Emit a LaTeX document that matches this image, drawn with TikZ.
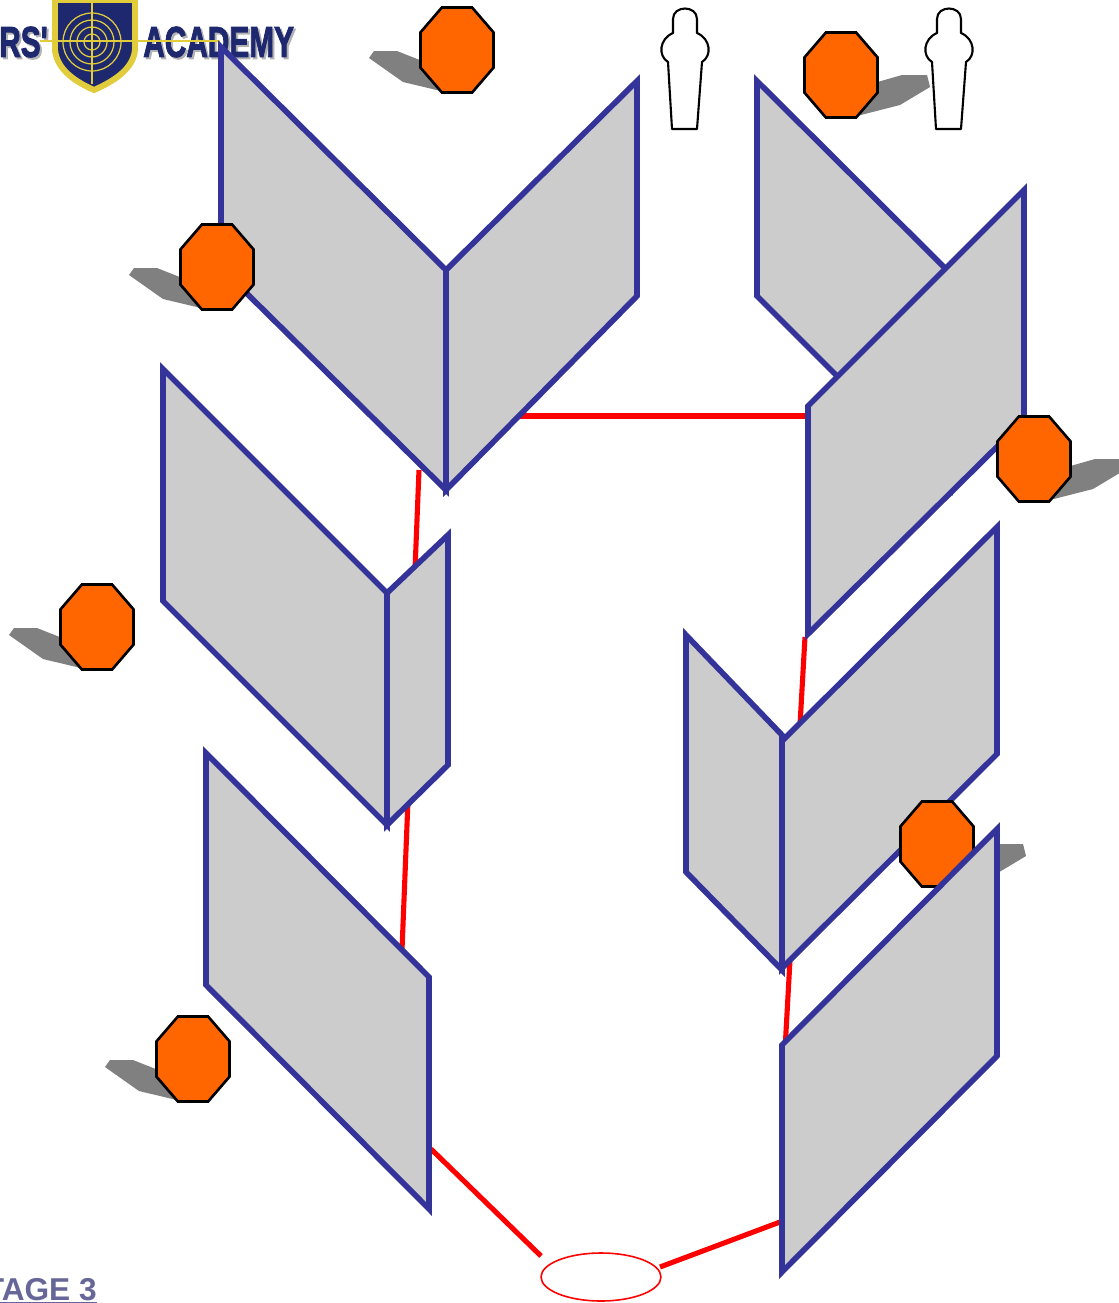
\documentclass[tikz,border=0pt]{standalone}
\usepackage{fontspec}
\setmainfont{Liberation Sans}
\newfontfamily\logofont[FakeBold=2.5]{Liberation Sans}
\usepackage{xcolor}
\usetikzlibrary{shapes.geometric}
\definecolor{panelblue}{RGB}{51,51,153}
\definecolor{panelgray}{RGB}{204,204,204}
\definecolor{stoporange}{RGB}{255,102,0}
\definecolor{shadegray}{RGB}{128,128,128}
\definecolor{stagetext}{RGB}{102,102,153}
\definecolor{logonavy}{RGB}{30,40,110}
\definecolor{logoyellow}{RGB}{225,205,60}

\begin{document}
\begin{tikzpicture}[
  x=0.02cm, y=-0.02cm,
  panel/.style={draw=panelblue, fill=panelgray, line width=3.2pt, line join=miter},
  fault/.style={draw=red, line width=2.9pt},
  plate/.style={regular polygon, regular polygon sides=8, draw=black,
    fill=stoporange, line width=1.5pt, minimum size=1.84cm, inner sep=0pt, xscale=0.86},
  shade/.style={fill=shadegray},
  logotext/.style={font=\logofont\bfseries\fontsize{24.6}{26}\selectfont, xscale=0.69, inner sep=0pt},
  stopleft/.pic={
    \fill[shade] (-88,8) -- (-83,1) -- (-60,1) -- (-12,20) -- (-12,42) -- (-54,32) -- cycle;
    \node[plate] (-oct) at (0,0) {};
  },
  stopright/.pic={
    \fill[shade] (89,12) -- (86,0) -- (61,0) -- (12,14) -- (12,42) -- (59,30) -- cycle;
    \node[plate] (-oct) at (0,0) {};
  },
  figure/.pic={
    \draw[line width=1.2pt, line join=round, fill=white] (-13,0) -- (-17,-67)
      .. controls (-27,-73) and (-26,-90) .. (-12,-96) -- (-12,-110)
      .. controls (-12,-124) and (12,-124) .. (12,-110) -- (12,-96)
      .. controls (26,-90) and (27,-73) .. (17,-67) -- (12,0) -- cycle;
  }
]
  \clip[use as bounding box] (0,0) rectangle (1119,1303);

  % logo
  \node[logotext, text=shadegray!60, anchor=east] (rsback) at (50,44) {RS'};
  \node[logotext, text=logonavy, anchor=east] (rs) at (48,42) {RS'};
  \node[logotext, text=shadegray!60, anchor=west] (academyback) at (145,44) {ACADEMY};
  \node[logotext, text=logonavy, anchor=west] (academy) at (143,42) {ACADEMY};
  \draw[draw=logoyellow, fill=logonavy, line width=3.4pt] (55,0) -- (135,0) -- (135,50)
    .. controls (133,70) and (112,82) .. (94,90) .. controls (76,82) and (57,70) .. (55,50) -- cycle;
  \draw[logoyellow, line width=0.7pt] (92,42) circle (29) (92,42) circle (22) (92,42) circle (15) (92,42) circle (8);
  \draw[logoyellow, line width=0.7pt] (40,41) -- (220,41) (92,3) -- (92,84);

  % red lines
  \coordinate (r1a) at (519,416);
  \coordinate (r1b) at (808,416);
  \coordinate (r2a) at (419,470);
  \coordinate (r2b) at (415,570);
  \coordinate (r3a) at (408,800);
  \coordinate (r3b) at (402,950);
  \coordinate (r4a) at (805,637);
  \coordinate (r4b) at (800,725);
  \coordinate (r5a) at (790,960);
  \coordinate (r5b) at (785,1050);
  \coordinate (r6a) at (431,1149);
  \coordinate (r6b) at (541,1256);
  \coordinate (r7a) at (660,1267);
  \coordinate (r7b) at (780,1222);
  \draw[fault] (r1a) -- (r1b);
  \draw[fault] (r2a) -- (r2b);
  \draw[fault] (r3a) -- (r3b);
  \draw[fault] (r4a) -- (r4b);
  \draw[fault] (r5a) -- (r5b);
  \draw[fault] (r6a) -- (r6b);
  \draw[fault] (r7a) -- (r7b);
  \node[ellipse, draw=red, line width=0.9pt, minimum width=2.4cm, minimum height=0.96cm, inner sep=0pt] (box) at (601,1277) {};

  % panels
  \draw[panel] (221,47) -- (446,270) -- (446,490) -- (221,268) -- cycle;
  \draw[panel] (446,270) -- (637,81) -- (637,296) -- (446,490) -- cycle;
  \draw[panel] (757,81) -- (950,273) -- (950,489) -- (757,296) -- cycle;
  \draw[panel] (808,406) -- (1024,190) -- (1024,420) -- (808,634) -- cycle;
  \draw[panel] (163,369) -- (387,593) -- (387,825) -- (163,601) -- cycle;
  \draw[panel] (387,593) -- (448,535) -- (448,765) -- (387,825) -- cycle;
  \draw[panel] (206,753) -- (429,977) -- (429,1209) -- (206,985) -- cycle;
  \draw[panel] (686,635) -- (782,735) -- (782,970) -- (686,872) -- cycle;
  \draw[panel] (782,741) -- (997,527) -- (997,754) -- (782,968) -- cycle;

  % plates
  \pic (p1) at (457,50) {stopleft};
  \pic (p2) at (841,75) {stopright};
  \pic (p3) at (217,267) {stopleft};
  \pic (p4) at (1034,459) {stopright};
  \pic (p5) at (97,627) {stopleft};
  \pic (p6) at (937,844) {stopright};
  \pic (p7) at (193,1059) {stopleft};

  \draw[panel] (782,1045) -- (997,829) -- (997,1056) -- (782,1272) -- cycle;

  % figures
  \pic (f1) at (685,129) {figure};
  \pic (f2) at (949,129) {figure};

  \node[anchor=base east, inner sep=0pt, text=stagetext, font=\bfseries\fontsize{18}{20}\selectfont] (stage) at (97,1300) {\underline{STAGE 3}};
\end{tikzpicture}
\end{document}
